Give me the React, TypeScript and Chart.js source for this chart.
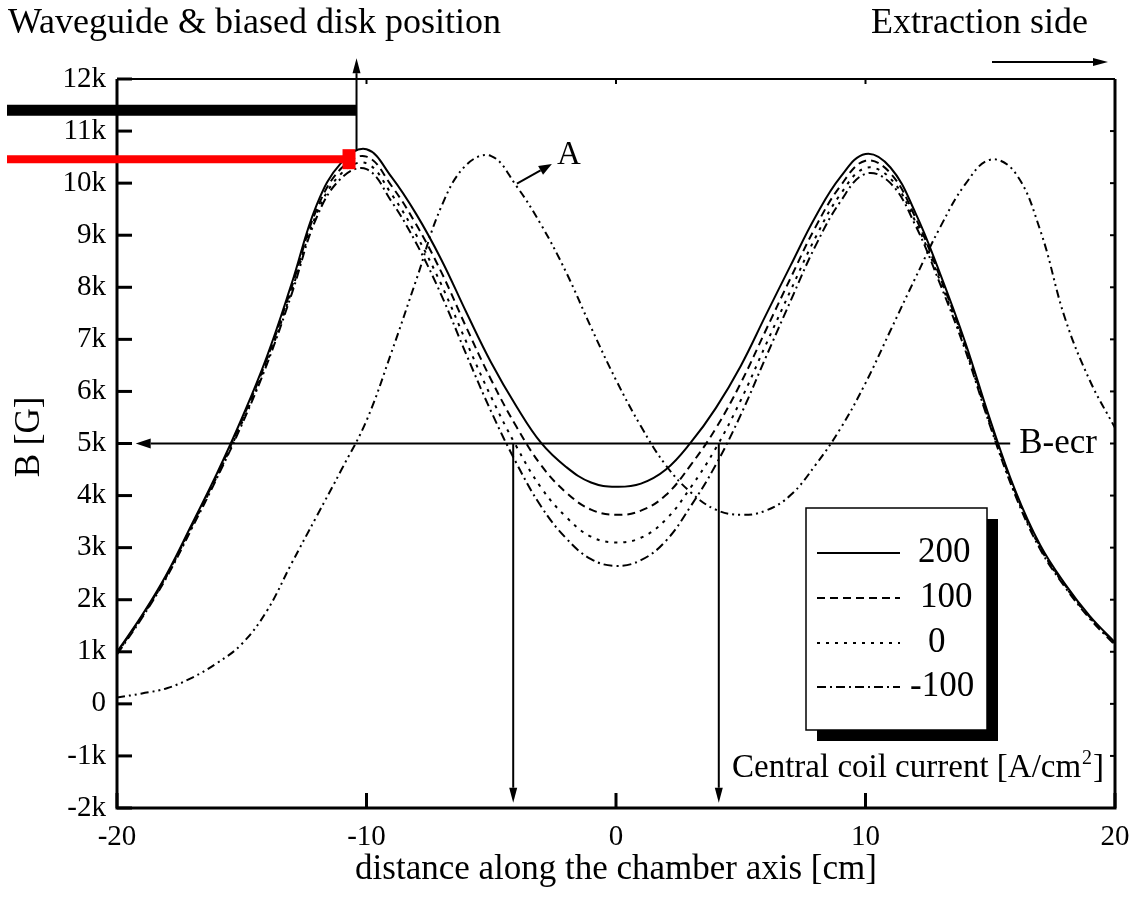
import React, { useEffect, useRef } from "react";
import { Chart, registerables } from "chart.js";

Chart.register(...registerables);

// ---------- data (B in kG, position in cm) ----------
const positionsCm = [
  -20, -19, -18, -17, -16, -15, -14, -13, -12, -11, -10, -9, -8, -7, -6, -5, -4, -3, -2, -1,
  0, 1, 2, 3, 4, 5, 6, 7, 8, 9, 10, 11, 12, 13, 14, 15, 16, 17, 18, 19, 20,
];

const field200 = [
  1.0, 1.7, 2.5, 3.45, 4.42, 5.48, 6.66, 8.07, 9.58, 10.4, 10.65, 10.12, 9.4, 8.53, 7.52, 6.55, 5.72, 5.01, 4.55, 4.25,
  4.17, 4.23, 4.5, 5.02, 5.68, 6.49, 7.46, 8.42, 9.36, 10.12, 10.56, 10.3, 9.43, 8.25, 6.94, 5.45, 4.1, 3.05, 2.3, 1.68, 1.18,
];

const field100 = [
  0.98, 1.68, 2.48, 3.42, 4.39, 5.44, 6.61, 8.0, 9.49, 10.29, 10.51, 9.95, 9.2, 8.29, 7.23, 6.22, 5.33, 4.58, 4.06, 3.73,
  3.63, 3.71, 4.01, 4.59, 5.29, 6.16, 7.17, 8.18, 9.16, 9.95, 10.43, 10.19, 9.34, 8.18, 6.89, 5.41, 4.07, 3.02, 2.28, 1.66, 1.16,
];

const field0 = [
  0.97, 1.67, 2.46, 3.4, 4.36, 5.39, 6.55, 7.93, 9.41, 10.19, 10.38, 9.79, 9.0, 8.05, 6.95, 5.89, 4.95, 4.15, 3.59, 3.21,
  3.1, 3.19, 3.54, 4.16, 4.91, 5.83, 6.89, 7.94, 8.96, 9.79, 10.29, 10.09, 9.26, 8.11, 6.83, 5.36, 4.04, 3.0, 2.26, 1.65, 1.15,
];

const fieldMinus100 = [
  0.95, 1.65, 2.44, 3.37, 4.33, 5.36, 6.51, 7.87, 9.34, 10.1, 10.27, 9.65, 8.84, 7.85, 6.71, 5.61, 4.63, 3.79, 3.18, 2.78,
  2.65, 2.76, 3.13, 3.8, 4.59, 5.55, 6.65, 7.74, 8.8, 9.65, 10.18, 10.0, 9.19, 8.05, 6.79, 5.33, 4.01, 2.97, 2.24, 1.63, 1.13,
];

const curveA = [
  0.12, 0.2, 0.3, 0.5, 0.78, 1.15, 1.78, 2.7, 3.6, 4.5, 5.44, 6.75, 8.15, 9.55, 10.35, 10.52, 9.95, 9.2, 8.29, 7.23,
  6.22, 5.33, 4.58, 4.06, 3.73, 3.63, 3.71, 4.01, 4.59, 5.29, 6.16, 7.17, 8.18, 9.16, 9.98, 10.45, 10.2, 9.1, 7.4, 6.2, 5.3,
];

const legendLabels = ["200", "100", "0", "-100"];
const xTickValues = [-20, -10, 0, 10, 20];
const yTickValues = [-2, -1, 0, 1, 2, 3, 4, 5, 6, 7, 8, 9, 10, 11, 12];

// annotation values (data units)
const waveguideCm = -10.4;
const waveguideTopKG = 12.4;
const waveguidePeakKG = 10.62;
const blackBarKG = 11.4;
const redBarKG = 10.46;
const ecrKG = 5;
const ecrLineEndCm = 15.8;
const ecrArrowTipCm = -19.25;
const resonanceCm = [-4.12, 4.12];
const resonanceTipKG = -1.9;
const labelAFrom = { x: -3.97, y: 9.99 };
const labelATo = { x: -2.57, y: 10.37 };

const SERIF = "'Liberation Serif', 'Times New Roman', serif";
const dashes: number[][] = [[], [8, 5], [3, 6], [9, 4, 2, 4]];

function toPoints(vals: number[]) {
  return positionsCm.map((x, i) => ({ x, y: vals[i] }));
}

function arrow(ctx: CanvasRenderingContext2D, x1: number, y1: number, x2: number, y2: number, head = 15, half = 5) {
  const ang = Math.atan2(y2 - y1, x2 - x1);
  const bx = x2 - head * Math.cos(ang);
  const by = y2 - head * Math.sin(ang);
  ctx.beginPath();
  ctx.moveTo(x1, y1);
  ctx.lineTo(bx, by);
  ctx.stroke();
  ctx.beginPath();
  ctx.moveTo(x2, y2);
  ctx.lineTo(bx + half * Math.sin(ang), by - half * Math.cos(ang));
  ctx.lineTo(bx - half * Math.sin(ang), by + half * Math.cos(ang));
  ctx.closePath();
  ctx.fill();
}

const overlayPlugin = {
  id: "overlay",
  afterDraw(chart: any) {
    const { ctx, chartArea: a } = chart;
    const xs = chart.scales.x;
    const ys = chart.scales.y;
    const X = (v: number) => xs.getPixelForValue(v);
    const Y = (v: number) => ys.getPixelForValue(v);
    ctx.save();
    ctx.strokeStyle = "#000";
    ctx.fillStyle = "#000";
    ctx.setLineDash([]);

    // frame
    ctx.lineWidth = 3;
    ctx.beginPath();
    ctx.moveTo(a.left, a.top);
    ctx.lineTo(a.left, a.bottom);
    ctx.lineTo(a.right, a.bottom);
    ctx.lineTo(a.right, a.top);
    ctx.stroke();
    ctx.lineWidth = 2;
    ctx.beginPath();
    ctx.moveTo(a.left, a.top);
    ctx.lineTo(a.right, a.top);
    ctx.stroke();

    // ticks
    yTickValues.forEach((v) => {
      const py = Y(v);
      ctx.lineWidth = 3;
      ctx.beginPath();
      ctx.moveTo(a.left, py);
      ctx.lineTo(a.left + 15, py);
      ctx.stroke();
      ctx.lineWidth = 2;
      ctx.beginPath();
      ctx.moveTo(a.right, py);
      ctx.lineTo(a.right - 5, py);
      ctx.stroke();
    });
    xTickValues.forEach((v) => {
      const px = X(v);
      ctx.lineWidth = 3;
      ctx.beginPath();
      ctx.moveTo(px, a.bottom);
      ctx.lineTo(px, a.bottom - 15);
      ctx.stroke();
      ctx.lineWidth = 2;
      ctx.beginPath();
      ctx.moveTo(px, a.top);
      ctx.lineTo(px, a.top + 5);
      ctx.stroke();
    });

    // black & red bars
    const wx = X(waveguideCm);
    ctx.lineWidth = 11;
    ctx.beginPath();
    ctx.moveTo(7, Y(blackBarKG));
    ctx.lineTo(wx, Y(blackBarKG));
    ctx.stroke();
    ctx.strokeStyle = "#ff0000";
    ctx.fillStyle = "#ff0000";
    ctx.lineWidth = 8;
    ctx.beginPath();
    ctx.moveTo(7, Y(redBarKG));
    ctx.lineTo(wx - 6, Y(redBarKG));
    ctx.stroke();
    ctx.fillRect(wx - 14, Y(redBarKG) - 10, 13, 20);
    ctx.strokeStyle = "#000";
    ctx.fillStyle = "#000";

    // waveguide arrow
    ctx.lineWidth = 2;
    arrow(ctx, wx, Y(waveguidePeakKG), wx, Y(waveguideTopKG), 15, 4);

    // B-ecr arrow
    arrow(ctx, X(ecrLineEndCm), Y(ecrKG), X(ecrArrowTipCm), Y(ecrKG), 15, 5);

    // resonance arrows
    resonanceCm.forEach((c) => arrow(ctx, X(c), Y(ecrKG), X(c), Y(resonanceTipKG), 15, 4));

    // A arrow
    arrow(ctx, X(labelAFrom.x), Y(labelAFrom.y), X(labelATo.x), Y(labelATo.y), 13, 5);

    // Extraction arrow
    arrow(ctx, 992, 62, 1108, 62, 15, 4);

    // texts
    ctx.font = `36px ${SERIF}`;
    ctx.textBaseline = "alphabetic";
    ctx.textAlign = "left";
    ctx.fillText("Waveguide & biased disk position", 8, 33);
    ctx.fillText("Extraction side", 871, 33);
    ctx.font = `35px ${SERIF}`;
    ctx.textBaseline = "middle";
    ctx.fillText("B-ecr", X(ecrLineEndCm) + 9, Y(ecrKG));
    ctx.font = `33px ${SERIF}`;
    ctx.textBaseline = "alphabetic";
    ctx.fillText("A", X(labelATo.x) + 5, Y(labelATo.y));

    // x title
    ctx.font = `35px ${SERIF}`;
    ctx.textAlign = "center";
    ctx.fillText("distance along the chamber axis [cm]", (a.left + a.right) / 2, 879);
    // y title
    ctx.save();
    ctx.translate(30, 437);
    ctx.rotate(-Math.PI / 2);
    ctx.textBaseline = "middle";
    ctx.fillText("B [G]", 0, 0);
    ctx.restore();

    // legend
    const L = 806, T = 508, R = 987, B = 730;
    ctx.fillStyle = "#000";
    ctx.fillRect(L + 11, T + 11, R - L, B - T);
    ctx.fillStyle = "#fff";
    ctx.fillRect(L, T, R - L, B - T);
    ctx.lineWidth = 1.5;
    ctx.strokeRect(L, T, R - L, B - T);
    ctx.fillStyle = "#000";
    const rowY = [553, 598, 643, 687];
    const labelX = [918, 920, 928, 910];
    legendLabels.forEach((lab, i) => {
      ctx.setLineDash(dashes[i]);
      ctx.lineWidth = 2;
      ctx.beginPath();
      ctx.moveTo(817, rowY[i]);
      ctx.lineTo(900, rowY[i]);
      ctx.stroke();
      ctx.setLineDash([]);
      ctx.font = `35px ${SERIF}`;
      ctx.textAlign = "left";
      ctx.textBaseline = "middle";
      ctx.fillText(lab, labelX[i], rowY[i]);
    });

    // legend caption with superscript
    ctx.textBaseline = "alphabetic";
    ctx.textAlign = "left";
    ctx.font = `33px ${SERIF}`;
    const cap1 = "Central coil current [A/cm";
    ctx.fillText(cap1, 732, 777);
    const w1 = ctx.measureText(cap1).width;
    ctx.font = `20px ${SERIF}`;
    ctx.fillText("2", 732 + w1 + 1, 764);
    const w2 = ctx.measureText("2").width;
    ctx.font = `33px ${SERIF}`;
    ctx.fillText("]", 732 + w1 + w2 + 2, 777);

    ctx.restore();
  },
};

export default function App() {
  const ref = useRef<HTMLCanvasElement>(null);
  useEffect(() => {
    if (!ref.current) return;
    const common = { pointRadius: 0, borderWidth: 2, borderColor: "#000", fill: false, tension: 0.4 };
    const chart = new Chart(ref.current, {
      type: "line",
      data: {
        datasets: [
          { ...common, label: legendLabels[0], data: toPoints(field200), borderDash: dashes[0] },
          { ...common, label: legendLabels[1], data: toPoints(field100), borderDash: dashes[1] },
          { ...common, label: legendLabels[2], data: toPoints(field0), borderDash: dashes[2] },
          { ...common, label: legendLabels[3], data: toPoints(fieldMinus100), borderDash: dashes[3] },
          { ...common, label: "A", data: toPoints(curveA), borderDash: [8, 4, 2, 4, 2, 4] },
        ],
      },
      options: {
        animation: false,
        responsive: false,
        devicePixelRatio: 1,
        layout: { padding: { left: 0, right: 21, top: 79, bottom: 0 } },
        plugins: { legend: { display: false }, tooltip: { enabled: false } },
        scales: {
          x: {
            type: "linear",
            min: -20,
            max: 20,
            afterBuildTicks: (s: any) => {
              s.ticks = xTickValues.map((v) => ({ value: v }));
            },
            afterFit: (s: any) => {
              s.height = 108;
              s.paddingLeft = 0;
              s.paddingRight = 0;
            },
            ticks: { color: "#000", font: { family: SERIF, size: 29 }, padding: 12, maxRotation: 0, autoSkip: false },
            grid: { display: false, drawTicks: false },
            border: { display: false },
          },
          y: {
            type: "linear",
            min: -2,
            max: 12,
            afterBuildTicks: (s: any) => {
              s.ticks = yTickValues.map((v) => ({ value: v }));
            },
            afterFit: (s: any) => {
              s.width = 117;
              s.paddingTop = 0;
              s.paddingBottom = 0;
            },
            ticks: {
              color: "#000",
              font: { family: SERIF, size: 29 },
              padding: 11,
              autoSkip: false,
              callback: (v: any) => (Number(v) === 0 ? "0" : `${v}k`),
            },
            grid: { display: false, drawTicks: false },
            border: { display: false },
          },
        },
      },
      plugins: [overlayPlugin],
    });
    return () => chart.destroy();
  }, []);
  return (
    <div style={{ position: "absolute", left: 0, top: 0, width: 1136, height: 916, background: "#fff" }}>
      <canvas ref={ref} width={1136} height={916} style={{ display: "block" }} />
    </div>
  );
}
